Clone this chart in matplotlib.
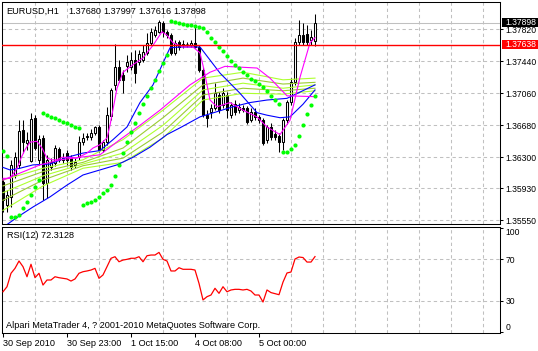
import numpy as np
import matplotlib
matplotlib.use("Agg")
import matplotlib.pyplot as plt
from matplotlib import font_manager
from matplotlib.patches import Rectangle

W, H = 538, 351

# EURUSD H1 candles (79 bars)
opens = [1.3601, 1.3573, 1.3583, 1.3609, 1.3621, 1.3662, 1.3647, 1.3626, 1.3677, 1.3627,
         1.3653, 1.3600, 1.3618, 1.3623, 1.3640, 1.3627, 1.3635, 1.3629, 1.3621, 1.3630,
         1.3648, 1.3654, 1.3654, 1.3659, 1.3666, 1.3639, 1.3648, 1.3679, 1.3716, 1.3737,
         1.3728, 1.3738, 1.3737, 1.3746, 1.3743, 1.3746, 1.3754, 1.3766, 1.3775, 1.3779,
         1.3790, 1.3779, 1.3775, 1.3754, 1.3767, 1.3765, 1.3765, 1.3763, 1.3766, 1.3761,
         1.3734, 1.3680, 1.3684, 1.3689, 1.3704, 1.3692, 1.3704, 1.3680, 1.3693, 1.3686,
         1.3689, 1.3689, 1.3674, 1.3684, 1.3678, 1.3674, 1.3651, 1.3666, 1.3658, 1.3655,
         1.3648, 1.3674, 1.3696, 1.3719, 1.3767, 1.3775, 1.3776, 1.3769, 1.37680]
highs = [1.3605, 1.3591, 1.3627, 1.3636, 1.3674, 1.3674, 1.3660, 1.3683, 1.3680, 1.3657,
         1.3657, 1.3633, 1.3629, 1.3645, 1.3642, 1.3635, 1.3639, 1.3633, 1.3629, 1.3655,
         1.3659, 1.3659, 1.3664, 1.3667, 1.3668, 1.3651, 1.3690, 1.3712, 1.3765, 1.3746,
         1.3734, 1.3752, 1.3755, 1.3757, 1.3757, 1.3763, 1.3778, 1.3784, 1.3786, 1.3793,
         1.3792, 1.3781, 1.3778, 1.3769, 1.3769, 1.3769, 1.3767, 1.3769, 1.3785, 1.3763,
         1.3737, 1.3686, 1.3693, 1.3718, 1.3708, 1.3712, 1.3708, 1.3696, 1.3698, 1.3695,
         1.3692, 1.3691, 1.3689, 1.3689, 1.3680, 1.3677, 1.3668, 1.3671, 1.3662, 1.3659,
         1.3677, 1.3698, 1.3724, 1.3772, 1.3793, 1.3790, 1.3787, 1.3781, 1.37997]
lows = [1.3565, 1.3565, 1.3571, 1.3605, 1.3617, 1.3635, 1.3639, 1.3624, 1.3639, 1.3621,
        1.3579, 1.3582, 1.3615, 1.3620, 1.3624, 1.3623, 1.3621, 1.3615, 1.3617, 1.3627,
        1.3645, 1.3651, 1.3651, 1.3657, 1.3636, 1.3636, 1.3645, 1.3674, 1.3710, 1.3719,
        1.3706, 1.3731, 1.3734, 1.3718, 1.3740, 1.3743, 1.3752, 1.3763, 1.3773, 1.3778,
        1.3773, 1.3772, 1.3752, 1.3752, 1.3757, 1.3760, 1.3761, 1.3761, 1.3760, 1.3731,
        1.3678, 1.3666, 1.3677, 1.3686, 1.3683, 1.3689, 1.3677, 1.3677, 1.3680, 1.3683,
        1.3684, 1.3670, 1.3672, 1.3674, 1.3671, 1.3645, 1.3647, 1.3651, 1.3651, 1.3636,
        1.3639, 1.3670, 1.3692, 1.3716, 1.3763, 1.3763, 1.3763, 1.3763, 1.37616]
closes = [1.3579, 1.3585, 1.3621, 1.3630, 1.3661, 1.3648, 1.3651, 1.3676, 1.3641, 1.3652,
          1.3600, 1.3627, 1.3624, 1.3641, 1.3627, 1.3629, 1.3627, 1.3618, 1.3624, 1.3648,
          1.3653, 1.3655, 1.3659, 1.3666, 1.3639, 1.3648, 1.3680, 1.3710, 1.3737, 1.3722,
          1.3722, 1.3743, 1.3746, 1.3730, 1.3753, 1.3755, 1.3766, 1.3779, 1.3781, 1.3791,
          1.3779, 1.3775, 1.3754, 1.3766, 1.3761, 1.3763, 1.3764, 1.3766, 1.3761, 1.3734,
          1.3680, 1.3677, 1.3689, 1.3706, 1.3686, 1.3706, 1.3686, 1.3692, 1.3684, 1.3690,
          1.3686, 1.3672, 1.3684, 1.3678, 1.3674, 1.3647, 1.3666, 1.3654, 1.3654, 1.3648,
          1.3674, 1.3696, 1.3719, 1.3767, 1.3775, 1.3767, 1.3767, 1.3773, 1.37898]

# parabolic SAR, one dot per bar
sar = [1.3638, 1.3632, 1.3559, 1.3559, 1.3561, 1.3570, 1.3577, 1.3585, 1.3595, 1.3603,
       1.3683, 1.3680, 1.3678, 1.3677, 1.3674, 1.3672, 1.3671, 1.3668, 1.3666, 1.3665,
       1.3573, 1.3576, 1.3577, 1.3579, 1.3583, 1.3588, 1.3591, 1.3597, 1.3608, 1.3621,
       1.3635, 1.3648, 1.3660, 1.3671, 1.3683, 1.3693, 1.3703, 1.3712, 1.3722, 1.3732,
       1.3742, 1.3752, 1.3792, 1.3791, 1.3790, 1.3788, 1.3787, 1.3787, 1.3786, 1.3785,
       1.3784, 1.3779, 1.3772, 1.3767, 1.3761, 1.3756, 1.3750, 1.3744, 1.3740, 1.3736,
       1.3731, 1.3728, 1.3723, 1.3721, 1.3717, 1.3714, 1.3709, 1.3703, 1.3698, 1.3693,
       1.3636, 1.3636, 1.3640, 1.3645, 1.3655, 1.3668, 1.3681, 1.3692, 1.3703]

# RSI(12), one value per bar
rsi = [38.8, 43.6, 56.4, 61.1, 68.1, 62.7, 53.1, 65.0, 52.2, 56.4,
       45.2, 50.0, 50.0, 53.1, 52.2, 51.6, 51.0, 49.0, 51.0, 56.4,
       57.9, 58.6, 59.5, 61.1, 51.6, 54.8, 62.7, 70.7, 72.2, 67.4,
       69.0, 69.7, 70.7, 70.7, 72.2, 67.4, 73.1, 73.8, 73.8, 76.3,
       69.7, 68.1, 58.6, 58.6, 61.7, 60.2, 60.2, 60.2, 59.5, 46.8,
       31.0, 34.1, 35.7, 42.1, 37.3, 43.6, 38.8, 40.5, 41.1, 41.1,
       40.5, 41.1, 39.5, 35.7, 35.7, 29.0, 40.5, 38.0, 37.0, 36.0,
       48.0, 56.7, 57.6, 70.0, 71.9, 71.4, 67.1, 67.1, 72.31]

# indicator lines: (bar, price) points
ma_fast_x = [0, 1.75, 3.5, 4.5, 5.5, 6.75, 8.5, 9.75, 11, 12.25,
             13.5, 14.75, 16.75, 18.5, 21, 22.5, 24.25, 26, 26.75, 28.5,
             30, 32.5, 35, 37.5, 39.75, 41, 42.5, 45, 47.5, 49.25,
             50.25, 51.75, 53.5, 56.75, 60, 63.5, 66, 69.25, 71.75, 74.25,
             76.75, 78]
ma_fast_y = [1.3605, 1.3605, 1.3617, 1.3629, 1.3639, 1.3648, 1.3649, 1.3641, 1.3629, 1.3627,
             1.3627, 1.3630, 1.3630, 1.3629, 1.3635, 1.3641, 1.3645, 1.3653, 1.3668, 1.3712,
             1.3731, 1.3740, 1.3748, 1.3763, 1.3779, 1.3775, 1.3766, 1.3761, 1.3761, 1.3754,
             1.3734, 1.3698, 1.3690, 1.3695, 1.3686, 1.3678, 1.3666, 1.3657, 1.3674, 1.3725,
             1.3766, 1.3772]
ma_slow_x = [0, 9.25, 14.25, 24.25, 29.25, 34.25, 39.25, 46.75, 51.75, 55.5, 63.5, 66.75, 71, 78]
ma_slow_y = [1.3603, 1.3621, 1.3627, 1.3633, 1.3651, 1.3668, 1.3686, 1.3716, 1.3731, 1.3738,
             1.3736, 1.3724, 1.3703, 1.3702]
blue_fast_x = [0, 1.75, 4.25, 7.5, 11.75, 16, 20, 24.25, 27.5, 31, 34.25, 37.5,
               40, 41.75, 44.25, 49.25, 54.25, 59.25, 63.5, 66, 69.25, 71.75, 75, 78]
blue_fast_y = [1.3618, 1.3615, 1.3617, 1.3621, 1.3622, 1.3630, 1.3635, 1.3638, 1.3651, 1.3666,
               1.3695, 1.3716, 1.3742, 1.3760, 1.3761, 1.3761, 1.3730, 1.3706, 1.3683, 1.3680,
               1.3677, 1.3678, 1.3693, 1.3710]
blue_slow_x = [0, 1.25, 4.25, 7.5, 11.75, 16, 20, 24.25, 28.5, 32.5, 36.75, 41, 44.25,
               49.25, 57.5, 61.75, 66, 71, 78]
blue_slow_y = [1.3547, 1.3551, 1.3561, 1.3571, 1.3583, 1.3597, 1.3609, 1.3615, 1.3621, 1.3630,
               1.3642, 1.3657, 1.3665, 1.3678, 1.3690, 1.3695, 1.3698, 1.3700, 1.3716]
green_x = [0, 10, 20, 30, 40, 50, 60, 70, 78]
green_1 = [1.3603, 1.3617, 1.3627, 1.3651, 1.3686, 1.3724, 1.3731, 1.3722, 1.3724]
green_2 = [1.3596, 1.3613, 1.3624, 1.3641, 1.3677, 1.3716, 1.3724, 1.3717, 1.3719]
green_3 = [1.3588, 1.3608, 1.3622, 1.3635, 1.3668, 1.3710, 1.3718, 1.3712, 1.3716]
green_4 = [1.3579, 1.3603, 1.3620, 1.3629, 1.3660, 1.3704, 1.3712, 1.3709, 1.3712]
green_5 = [1.3567, 1.3596, 1.3617, 1.3624, 1.3653, 1.3698, 1.3706, 1.3705, 1.3709]

price_ticks = [1.37820, 1.37440, 1.37060, 1.36680, 1.36300, 1.35930, 1.35550]
rsi_ticks = [0, 30, 70, 100]
rsi_levels = [30, 70]
time_ticks = [0, 16, 32, 48, 64]
time_labels = ["30 Sep 2010", "30 Sep 23:00", "1 Oct 15:00", "4 Oct 08:00", "5 Oct 00:00"]
bid = 1.37898
level_line = 1.37638
header = ["EURUSD,H1", "1.37680", "1.37997", "1.37616", "1.37898"]

# MS Sans Serif look-alike
names = {f.name for f in font_manager.fontManager.ttflist}
if "Liberation Sans Narrow" in names:
    FONT, FS, FS_SCALE = "Liberation Sans Narrow", 8, 8
else:
    FONT, FS, FS_SCALE = "Liberation Sans", 6.6, 6.2
plt.rcParams["font.family"] = [FONT, "DejaVu Sans"]
plt.rcParams["font.size"] = FS
plt.rcParams["axes.linewidth"] = 0.75

GRID = dict(color="#C0C0C0", ls=(0, (3.2, 2.8)), lw=0.75)


def px_rect(x0, y0, x1, y1):
    return [x0 / W, 1 - y1 / H, (x1 - x0) / W, (y1 - y0) / H]


fig = plt.figure(figsize=(W / 100, H / 100), dpi=100)
ax = fig.add_axes(px_rect(2, 2, 500, 224))
ax2 = fig.add_axes(px_rect(2, 227, 500, 333))

# %% main chart
x = np.arange(len(closes))
o, h, l, c = (np.array(v) for v in (opens, highs, lows, closes))
up = c >= o
ax.vlines(x, l, h, color="black", lw=0.75, zorder=2)
ax.bar(x, np.abs(c - o), bottom=np.minimum(o, c), width=0.5,
       color=np.where(up, "white", "black"), edgecolor="black", linewidth=0.75, zorder=3)

for gy, col in zip([green_5, green_4, green_3, green_2, green_1],
                   ["#ADFF2F", "#9ACD32", "#ADFF2F", "#9ACD32", "#ADFF2F"]):
    ax.plot(green_x, gy, color=col, lw=0.8, zorder=4)
ax.plot(blue_slow_x, blue_slow_y, color="#0000FF", lw=0.8, zorder=4)
ax.plot(blue_fast_x, blue_fast_y, color="#0000FF", lw=0.8, zorder=4)
ax.plot(ma_slow_x, ma_slow_y, color="#FF00FF", lw=0.8, zorder=4)
ax.plot(ma_fast_x, ma_fast_y, color="#FF00FF", lw=0.8, zorder=4)
ax.plot(x, sar, ls="none", marker="o", ms=3.0, mec="none", color="#00FF00", zorder=5)

ax.axhline(bid, color="#C0C0C0", lw=0.75, zorder=1)
ax.axhline(level_line, color="#FF0000", lw=1.0, zorder=6)

ax.set_xlim(-0.25, 124.25)
ax.set_ylim(1.35508, 1.38144)
ax.yaxis.tick_right()
ax.set_yticks(price_ticks, [f"{v:.5f}" for v in price_ticks])
ax.set_xticks([])
ax.set_xticks(np.arange(8, 121, 8), minor=True)
ax.tick_params(axis="x", which="both", length=0, labelbottom=False)
ax.tick_params(axis="y", length=2.2, width=0.75, pad=1.8, labelsize=FS_SCALE)
ax.grid(True, which="major", axis="y", **GRID)
ax.grid(True, which="minor", axis="x", **GRID)
ax.set_axisbelow(True)

# price boxes on the right scale
for price, col in [(bid, "black"), (level_line, "#FF0000")]:
    ax.add_patch(Rectangle((1.0034, price - 0.00055), 0.075, 0.0011, facecolor=col,
                           edgecolor="none", transform=ax.get_yaxis_transform(),
                           clip_on=False, zorder=7))
    ax.text(1.0115, price, f"{price:.5f}", color="white", va="center", ha="left",
            fontsize=FS_SCALE, transform=ax.get_yaxis_transform(), clip_on=False, zorder=8)

# %% RSI panel
ax2.plot(x, rsi, color="#FF0000", lw=0.9, zorder=3)
for lvl in rsi_levels:
    ax2.axhline(lvl, zorder=1, **GRID)
ax2.set_xlim(-0.25, 124.25)
ax2.set_ylim(-0.5, 100.5)
ax2.yaxis.tick_right()
ax2.set_yticks(rsi_ticks, [str(v) for v in rsi_ticks])
ax2.set_xticks(time_ticks, time_labels)
ax2.set_xticks(np.arange(8, 121, 8), minor=True)
ax2.tick_params(axis="x", which="minor", length=0)
ax2.tick_params(axis="x", which="major", length=3, width=0.75, pad=1, labelsize=FS)
ax2.tick_params(axis="y", length=2.2, width=0.75, pad=1.8, labelsize=FS_SCALE)
ax2.grid(True, which="minor", axis="x", **GRID)
ax2.set_axisbelow(True)
for lab in ax2.get_xticklabels():
    lab.set_ha("left")
ylabs = ax2.get_yticklabels()
ylabs[0].set_va("bottom")
ylabs[-1].set_va("top")

# %% texts
for txt, px in zip(header, [6.5, 68, 103, 138, 173.5]):
    fig.text(px / W, 1 - 11.7 / H, txt, va="center", ha="left", fontsize=FS)
fig.text(6.7 / W, 1 - 235.7 / H, "RSI(12) 72.3128", va="center", ha="left", fontsize=FS)
fig.text(6.3 / W, 1 - 326 / H, "Alpari MetaTrader 4, ? 2001-2010 MetaQuotes Software Corp.",
         va="center", ha="left", fontsize=FS)

fig.savefig("out.png", dpi=100, facecolor="white")
